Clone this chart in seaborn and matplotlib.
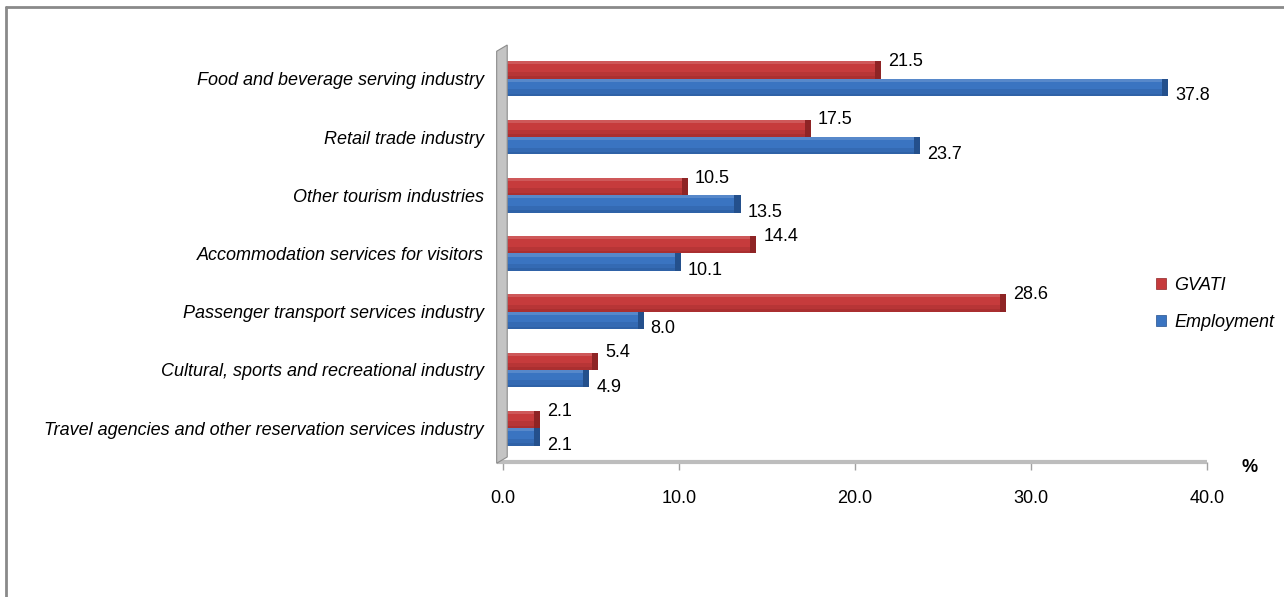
import matplotlib
matplotlib.use("Agg")
import matplotlib.pyplot as plt
import seaborn as sns
import pandas as pd
from matplotlib.patches import Polygon, Rectangle
from matplotlib.lines import Line2D

categories = [
    "Food and beverage serving industry",
    "Retail trade industry",
    "Other tourism industries",
    "Accommodation services for visitors",
    "Passenger transport services industry",
    "Cultural, sports and recreational industry",
    "Travel agencies and other reservation services industry",
]
gvati = [21.5, 17.5, 10.5, 14.4, 28.6, 5.4, 2.1]
employment = [37.8, 23.7, 13.5, 10.1, 8.0, 4.9, 2.1]
series_names = ["GVATI", "Employment"]
x_ticks = [0, 10, 20, 30, 40]

RED = "#C63B3C"
BLUE = "#3A74C1"
RED_DARK = "#8E2425"
BLUE_DARK = "#24508C"

df = pd.DataFrame({
    "category": categories * 2,
    "series": [series_names[0]] * len(categories) + [series_names[1]] * len(categories),
    "value": gvati + employment,
})

sns.set_theme(style="white")
plt.rcParams["font.family"] = ["Liberation Sans", "DejaVu Sans"]
plt.rcParams["text.color"] = "black"
plt.rcParams["xtick.color"] = "black"
plt.rcParams["ytick.color"] = "black"
FS = 13

fig = plt.figure(figsize=(12.84, 5.97), dpi=100)
ax = fig.add_axes([503 / 1284, 1 - 462 / 597, (1207 - 503) / 1284, (462 - 45) / 597])

sns.barplot(data=df, y="category", x="value", hue="series", orient="h",
            palette=[RED, BLUE], width=0.6, ax=ax, legend=False,
            saturation=1, edgecolor="none", errorbar=None)

# 3D-like shading for each bar
n = len(categories)
bars = list(ax.patches[:2 * n])
for patch, dark in zip(bars, [RED_DARK] * n + [BLUE_DARK] * n):
    x0, y0 = patch.get_x(), patch.get_y()
    w, h = patch.get_width(), patch.get_height()
    ax.add_patch(Rectangle((x0 + w - 0.35, y0), 0.35, h, color=dark, zorder=3, lw=0))
    ax.add_patch(Rectangle((x0, y0 + h * 0.6), w - 0.35, h * 0.4, color=dark, alpha=0.25, zorder=3, lw=0))
    ax.add_patch(Rectangle((x0, y0 + h * 0.85), w - 0.35, h * 0.15, color=dark, alpha=0.3, zorder=3, lw=0))
    ax.add_patch(Rectangle((x0, y0), w - 0.35, h * 0.18, color="white", alpha=0.15, zorder=3, lw=0))

ax.set_xlim(0, 40)
ax.set_ylim(n - 0.42, -0.58)
ax.set_xticks(x_ticks)
ax.set_xticklabels([f"{t:.1f}" for t in x_ticks], fontsize=FS)
ax.tick_params(axis="x", length=6, width=1, color="#a0a0a0", labelcolor="black", pad=14, bottom=True)
ax.tick_params(axis="y", length=0, pad=14, labelcolor="black")
for lbl in ax.get_yticklabels():
    lbl.set_fontstyle("italic")
    lbl.set_fontsize(FS)
ax.set_xlabel("")
ax.set_ylabel("")
for s in ax.spines.values():
    s.set_visible(False)

# value labels
vals = gvati + employment
for i, patch in enumerate(bars):
    yc = patch.get_y() + patch.get_height() / 2
    off = 6 if i < n else -6
    ax.annotate(f"{vals[i]:.1f}", xy=(patch.get_x() + patch.get_width(), yc),
                xytext=(5, off), textcoords="offset points",
                ha="left", va="center", fontsize=FS, color="black", clip_on=False)

# left wall and floor (3D look)
wall = Polygon([(-0.009, -0.003), (0.006, 0.012), (0.006, 1.0), (-0.009, 0.985)],
               closed=True, transform=ax.transAxes, clip_on=False,
               facecolor="#c4c4c4", edgecolor="#8c8c8c", lw=0.8, zorder=5)
ax.add_patch(wall)
ax.add_line(Line2D([-0.009, 1.0], [0, 0], transform=ax.transAxes, color="#bdbdbd",
                   lw=3, clip_on=False, zorder=4, solid_capstyle="butt"))

# legend
handles = [Rectangle((0, 0), 1, 1, facecolor=RED, edgecolor=RED_DARK, lw=0.5),
           Rectangle((0, 0), 1, 1, facecolor=BLUE, edgecolor=BLUE_DARK, lw=0.5)]
leg = fig.legend(handles, series_names, loc="center left",
                 bbox_to_anchor=(1140 / 1284, 1 - 304 / 597), frameon=False,
                 handlelength=0.55, handleheight=0.55, handletextpad=0.45,
                 labelspacing=1.1, prop={"style": "italic", "size": FS})

fig.text(1250 / 1284, 1 - 467 / 597, "%", fontsize=FS, fontweight="bold",
         ha="center", va="center")

# outer frame (top and left visible)
fig.add_artist(Line2D([6 / 1284, 6 / 1284], [0, 1 - 7 / 597], color="#8a8a8a", lw=2,
                      transform=fig.transFigure))
fig.add_artist(Line2D([6 / 1284, 1], [1 - 7 / 597, 1 - 7 / 597], color="#8a8a8a", lw=2,
                      transform=fig.transFigure))

fig.savefig("out.png", dpi=100, facecolor="white")
